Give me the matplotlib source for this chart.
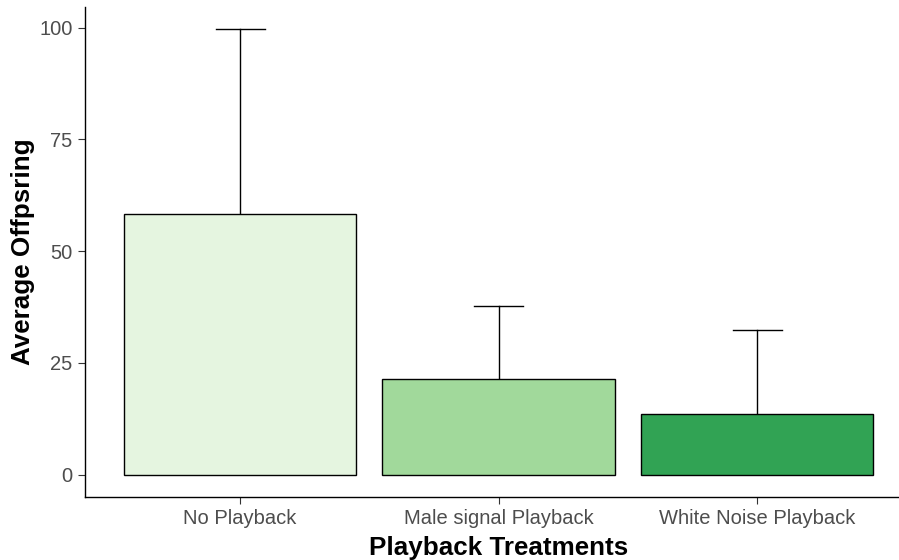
import matplotlib
matplotlib.use("Agg")
import matplotlib.pyplot as plt

treatments = ["No Playback", "Male signal Playback", "White Noise Playback"]
mean_offspring = [58.3, 21.5, 13.6]
upper_error = [99.6, 37.7, 32.4]
bar_colors = ["#E5F5E0", "#A1D99B", "#31A354"]
y_ticks = [0, 25, 50, 75, 100]

plt.rcParams["font.family"] = ["Liberation Sans", "DejaVu Sans"]

fig = plt.figure(figsize=(8.99, 5.6), dpi=100)
ax = fig.add_axes([85 / 899, 63 / 560, 1 - 85 / 899, (497 - 7) / 560])

x = list(range(1, len(treatments) + 1))
ax.bar(x, mean_offspring, width=0.9, color=bar_colors, edgecolor="black",
       linewidth=1.0, zorder=2)

# upper-only error bars
for xi, m, up in zip(x, mean_offspring, upper_error):
    ax.plot([xi, xi], [m, up], color="black", lw=1.0, zorder=1)
    ax.plot([xi - 0.095, xi + 0.095], [up, up], color="black", lw=1.0, zorder=1)

ax.set_xlim(0.4, 3.549)
ax.set_ylim(-4.98, 104.6)
ax.set_xticks(x)
ax.set_xticklabels(treatments)
ax.set_yticks(y_ticks)

for side in ("top", "right"):
    ax.spines[side].set_visible(False)
for side in ("left", "bottom"):
    ax.spines[side].set_linewidth(1.0)
    ax.spines[side].set_color("black")

ax.tick_params(axis="both", colors="#333333", labelcolor="#4D4D4D",
               labelsize=14.5, length=5, width=0.8)
ax.tick_params(axis="y", pad=4)
ax.tick_params(axis="x", pad=4)

ax.set_xlabel("Playback Treatments", fontsize=18.7, fontweight="bold")
ax.xaxis.set_label_coords(0.5086, -0.1184)
ax.xaxis.label.set_verticalalignment("baseline")
ax.set_ylabel("Average Offpsring", fontsize=18.7, fontweight="bold", labelpad=3)

fig.savefig("out.png", dpi=100)
